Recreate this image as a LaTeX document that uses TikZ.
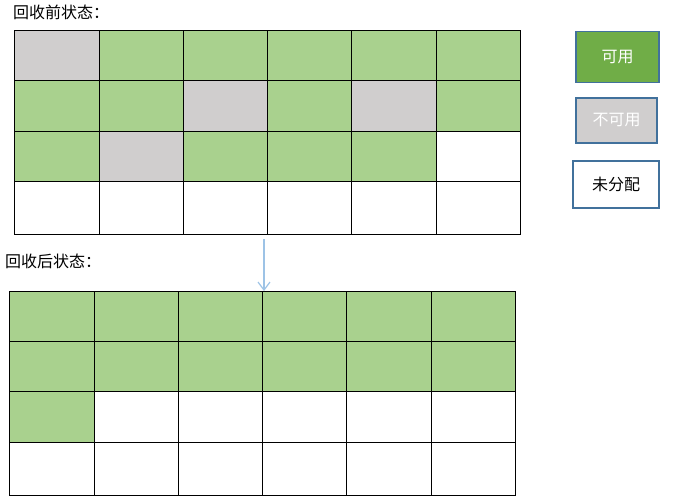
\documentclass[tikz,border=0pt]{standalone}
\usepackage{fontspec}
\setmainfont{Noto Sans CJK SC}
\usetikzlibrary{arrows.meta}
\definecolor{cellok}{HTML}{A9D18E}
\definecolor{cellno}{HTML}{D0CECE}
\definecolor{keyok}{HTML}{70AD47}
\definecolor{keyedge}{HTML}{41719C}
\definecolor{arrowblue}{HTML}{9DC3E6}
\tikzset{
	cell/.style={draw=black,line width=1pt},
	key/.style={draw=keyedge,line width=1.8pt,inner sep=0pt,font=\fontsize{16}{16}\selectfont},
	title/.style={anchor=west,inner sep=0pt,font=\fontsize{16}{16}\selectfont},
}

\begin{document}
\begin{tikzpicture}[x=1pt,y=-1pt]
		\useasboundingbox (0,0) rectangle (677,501);
		% before
		\node [title] (before) at (13,12) {回收前状态：};
		\foreach \r/\row in {0/{cellno,cellok,cellok,cellok,cellok,cellok},
			1/{cellok,cellok,cellno,cellok,cellno,cellok},
			2/{cellok,cellno,cellok,cellok,cellok,white},
			3/{white,white,white,white,white,white}} {
			\foreach \f [count=\k from 0] in \row {
				\pgfmathsetmacro\xa{{14,99,183,267,351,436,520}[\k]}
				\pgfmathsetmacro\xb{{14,99,183,267,351,436,520}[\k+1]}
				\pgfmathsetmacro\ya{{30,80,131,181,234}[\r]}
				\pgfmathsetmacro\yb{{30,80,131,181,234}[\r+1]}
				\filldraw [cell,fill=\f] (\xa,\ya) rectangle (\xb,\yb);
			}
		}
		% after
		\node [title] (after) at (5,261) {回收后状态：};
		\foreach \r/\row in {0/{cellok,cellok,cellok,cellok,cellok,cellok},
			1/{cellok,cellok,cellok,cellok,cellok,cellok},
			2/{cellok,white,white,white,white,white},
			3/{white,white,white,white,white,white}} {
			\foreach \f [count=\k from 0] in \row {
				\pgfmathsetmacro\xa{{9,94,178,262,346,431,515}[\k]}
				\pgfmathsetmacro\xb{{9,94,178,262,346,431,515}[\k+1]}
				\pgfmathsetmacro\ya{{291,341,391,442,495}[\r]}
				\pgfmathsetmacro\yb{{291,341,391,442,495}[\r+1]}
				\filldraw [cell,fill=\f] (\xa,\ya) rectangle (\xb,\yb);
			}
		}
		% arrow
		\coordinate (before-bottom) at (264,239);
		\coordinate (after-top) at (264,291);
		\draw [arrowblue,line width=1.2pt,-{Straight Barb[length=8pt,width=12pt]}] (before-bottom) to (after-top);
		% key
		\node [key,fill=keyok,text=white,minimum width=83pt,minimum height=51pt] (key-ok) at (617.5,57) {可用};
		\node [key,fill=cellno,text=white,minimum width=81pt,minimum height=45pt] (key-no) at (616.5,120.5) {不可用};
		\node [key,fill=white,text=black,minimum width=86pt,minimum height=47pt] (key-free) at (616,184.5) {未分配};
\end{tikzpicture}
\end{document}
